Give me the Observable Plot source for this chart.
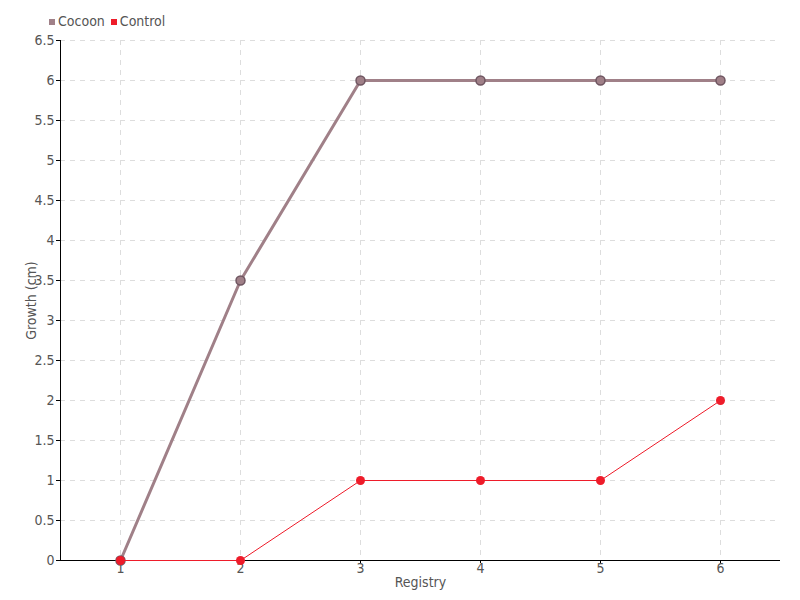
<!DOCTYPE html>
<html><head><meta charset="utf-8">
<script src="https://cdn.jsdelivr.net/npm/d3@7"></script>
<script src="https://cdn.jsdelivr.net/npm/@observablehq/plot@0.6"></script>
<style>
body{margin:0;background:#fff;font-family:"Liberation Sans Narrow","DejaVu Sans Condensed",sans-serif;}
#wrap{position:relative;width:800px;height:600px;}
#legend{position:absolute;left:49px;top:13px;font-size:14px;color:#555;display:flex;gap:6px;align-items:center;}
#legend span.sw{display:inline-block;width:6px;height:6px;margin-right:3px;vertical-align:middle;}
</style></head><body>
<div id="wrap"><div id="legend"></div><div id="chart"></div></div>
<script>
const registry = [1, 2, 3, 4, 5, 6];
const cocoon = [0, 3.5, 6, 6, 6, 6];
const control = [0, 0, 1, 1, 1, 2];
const seriesNames = ["Cocoon", "Control"];
const seriesColors = ["#a08088", "#ee1c2a"];
const yTicks = d3.range(0, 6.51, 0.5);
const fmt = d => String(+d.toFixed(1));

const cocoonData = registry.map((r, i) => ({x: r, y: cocoon[i]}));
const controlData = registry.map((r, i) => ({x: r, y: control[i]}));

const leg = document.getElementById("legend");
seriesNames.forEach((n, i) => {
  const s = document.createElement("span");
  s.innerHTML = `<span class="sw" style="background:${seriesColors[i]}"></span>${n}`;
  leg.appendChild(s);
});

const FONT = '"Liberation Sans Narrow","DejaVu Sans Condensed",sans-serif';
const chart = Plot.plot({
  width: 800, height: 600,
  marginLeft: 60, marginRight: 20, marginTop: 40, marginBottom: 40,
  style: {fontFamily: FONT, fontSize: "14px", color: "#555", background: "#fff"},
  x: {domain: [0.5, 6.5]},
  y: {domain: [0, 6.5]},
  marks: [
    Plot.gridX(registry, {stroke: "#ddd", strokeOpacity: 1, strokeDasharray: "5,5"}),
    Plot.gridY(yTicks.slice(1), {stroke: "#ddd", strokeOpacity: 1, strokeDasharray: "5,5"}),
    Plot.axisX({ticks: registry, tickFormat: fmt, tickSize: 3, tickPadding: 0, fontSize: 14, stroke: "#000", fill: "#555",
      label: "Registry", labelAnchor: "center", labelArrow: "none", labelOffset: 26}),
    Plot.axisY({ticks: yTicks, tickFormat: fmt, tickSize: 4, tickPadding: 2, fontSize: 14, stroke: "#000", fill: "#555",
      label: "Growth (cm)", labelAnchor: "center", labelArrow: "none", labelOffset: 34}),
    Plot.ruleX([0.5], {stroke: "#000"}),
    Plot.ruleY([0], {stroke: "#000"}),
    Plot.line(cocoonData, {x: "x", y: "y", stroke: seriesColors[0], strokeWidth: 3}),
    Plot.dot(cocoonData, {x: "x", y: "y", r: 4.5, fill: seriesColors[0], stroke: "#6e5560", strokeWidth: 1.5}),
    Plot.line(controlData, {x: "x", y: "y", stroke: seriesColors[1], strokeWidth: 1}),
    Plot.dot(controlData, {x: "x", y: "y", r: 4.5, fill: seriesColors[1], stroke: "none"})
  ]
});
document.getElementById("chart").appendChild(chart);
</script>
</body></html>
